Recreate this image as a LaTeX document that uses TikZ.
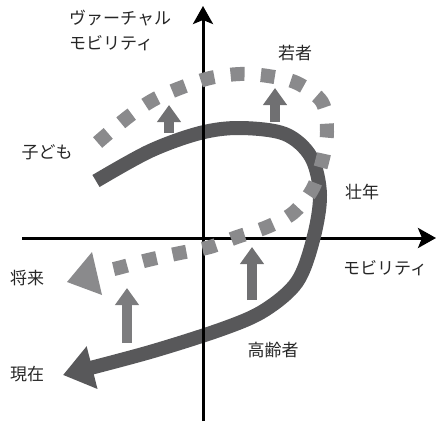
\documentclass[tikz,border=0pt]{standalone}
\usepackage{fontspec}
\setmainfont{Noto Sans CJK JP}
\usetikzlibrary{arrows.meta}
\definecolor{darkg}{HTML}{58585A}
\definecolor{lightg}{HTML}{8A8A8C}
\definecolor{midg}{HTML}{707072}
\begin{document}
\begin{tikzpicture}[x=1pt,y=-1pt,
  axisline/.style={line width=3pt, black, -{Stealth[length=18pt,width=20pt,inset=4pt]}},
  lbl/.style={font=\fontsize{17}{21}\selectfont, inner sep=0pt, text=black!85},
  solidpath/.style={line width=14pt, darkg, -{Triangle[length=30pt,width=42pt]}},
  dotpath/.style={line width=14pt, lightg, dash pattern=on 14pt off 16.4pt},
  uparrow/.style={line width=10pt, midg, -{Triangle[length=17pt,width=23pt]}}
]
\useasboundingbox (0,0) rectangle (436,423);

% coordinates
\coordinate (hL) at (22,238);
\coordinate (hR) at (436,238);
\coordinate (vB) at (203,421);
\coordinate (vT) at (203,6);

% horizontal axis
\draw[axisline] (hL) -- (hR);

% solid curve (current)
\draw[solidpath] plot[smooth, tension=0.55] coordinates {(96,181) (150,151) (200,133) (240,128) (285,134) (311,157) (320,195) (313,240) (297,282) (265,310) (225,328) (150,352) (63,375)};

% vertical axis
\draw[axisline] (vB) -- (vT);

% dotted curve (future)
\draw[dotpath] plot[smooth, tension=0.55] coordinates {(97.6,142.5) (128,117) (153,100) (180,88) (210,78) (240,74) (268,76) (297,83) (322,102) (327,132) (322,162) (312,190) (293,213) (267,227) (237,237) (210,247) (180,253) (148,260) (118,268) (100,272)};
\fill[lightg] (67,282) -- (92,252) -- (102,295) -- cycle;

% up arrows
\coordinate (a1s) at (169,133); \coordinate (a1e) at (169,105);
\coordinate (a2s) at (275,122); \coordinate (a2e) at (275,88);
\coordinate (a3s) at (252,300); \coordinate (a3e) at (252,247);
\coordinate (a4s) at (127,343); \coordinate (a4e) at (127,288);
\draw[uparrow] (a1s) -- (a1e);
\draw[uparrow] (a2s) -- (a2e);
\draw[uparrow] (a3s) -- (a3e);
\draw[uparrow, lightg!90!black] (a4s) -- (a4e);

% labels
\node[lbl, anchor=west] (vl1) at (69,18) {ヴァーチャル};
\node[lbl, anchor=west] (vl2) at (69,43) {モビリティ};
\node[lbl] (wakamono) at (295,53) {若者};
\node[lbl] (kodomo) at (47,152) {子ども};
\node[lbl] (sonen) at (362,192) {壮年};
\node[lbl] (shorai) at (27,278) {将来};
\node[lbl] (mob) at (385,268) {モビリティ};
\node[lbl] (koreisha) at (273,350) {高齢者};
\node[lbl] (genzai) at (27,374) {現在};
\end{tikzpicture}
\end{document}
